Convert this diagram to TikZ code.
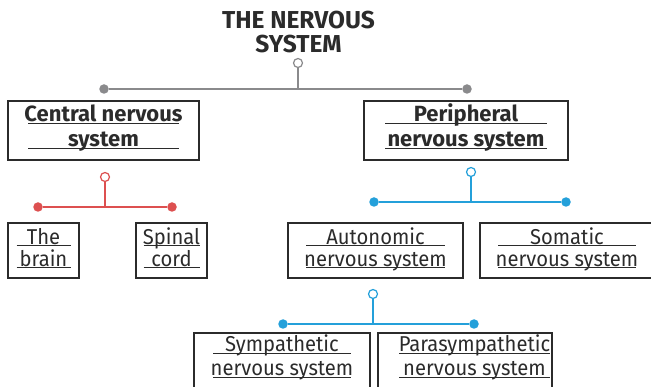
\documentclass[tikz,border=0pt]{standalone}
\usepackage{fontspec}
\setmainfont{Fira Sans}
\newfontfamily\leaffont[FakeStretch=0.94]{Fira Sans}

\definecolor{ink}{HTML}{2B2B2B}
\definecolor{rootgray}{HTML}{8A8A8C}
\definecolor{cnsred}{HTML}{DD5050}
\definecolor{pnsblue}{HTML}{24A0DA}

% one line of text over a rule of fixed width
\newcommand\ulbox[2]{\rlap{\rule[-1.8pt]{#1}{0.9pt}}\makebox[#1]{#2}}
% two underlined lines: width, baseline distance, top allowance, first line, second line
\newcommand\twoline[5]{%
  \vbox{\offinterlineskip
    \hbox{\rule{0pt}{#3}\smash{\ulbox{#1}{#4}}}%
    \vskip\dimexpr#2-#3\relax
    \hbox{\rule{0pt}{#3}\smash{\ulbox{#1}{#5}}}}}

\tikzset{
  panel/.style={draw=ink, line width=1.2pt, inner sep=0pt, text=ink},
  headbox/.style={panel, font=\fontsize{22}{25}\selectfont\bfseries, minimum height=59pt},
  leafbox/.style={panel, font=\leaffont\fontsize{21.5}{24}\selectfont, minimum height=55pt},
  hubring/.style={circle, draw=#1, fill=white, line width=1.2pt, minimum size=9pt, inner sep=0pt},
  enddot/.style={circle, fill=#1, minimum size=9.5pt, inner sep=0pt},
  twig/.style={draw=#1, line width=1.5pt},
}

\begin{document}
\begin{tikzpicture}[x=1pt, y=-1pt]
\useasboundingbox (0,0) rectangle (651,387);

% title
\node[text=ink, font=\fontsize{24.5}{24}\selectfont\bfseries, align=center, inner sep=0pt]
  (title) at (298.5,32) {THE NERVOUS\\SYSTEM};

% first split
\node[hubring=rootgray] (h0) at (298,63) {};
\node[enddot=rootgray] (h0l) at (104,89) {};
\node[enddot=rootgray] (h0r) at (467,89) {};
\draw[twig=rootgray] (h0l) -- (h0r);
\draw[twig=rootgray] (h0) -- (h0 |- h0l);

\node[headbox, minimum width=191pt] (cns) at (103.5,130.5)
  {\twoline{151pt}{25pt}{8pt}{Central nervous}{system}};
\node[headbox, minimum width=204pt] (pns) at (466,130.5)
  {\twoline{162pt}{25pt}{8pt}{Peripheral}{nervous system}};

% central branch
\node[hubring=cnsred] (h1) at (105,177) {};
\node[enddot=cnsred] (h1l) at (38,207) {};
\node[enddot=cnsred] (h1r) at (172,207) {};
\draw[twig=cnsred] (h1l) -- (h1r);
\draw[twig=cnsred] (h1) -- (h1 |- h1l);

\node[leafbox, minimum width=71pt] (brain) at (43.5,250.5)
  {\twoline{54pt}{22pt}{10pt}{The}{brain}};
\node[leafbox, minimum width=71pt] (cord) at (171.5,250.5)
  {\twoline{56pt}{22pt}{10pt}{Spinal}{cord}};

% peripheral branch
\node[hubring=pnsblue] (h2) at (471,172) {};
\node[enddot=pnsblue] (h2l) at (374,202) {};
\node[enddot=pnsblue] (h2r) at (566,202) {};
\draw[twig=pnsblue] (h2l) -- (h2r);
\draw[twig=pnsblue] (h2) -- (h2 |- h2l);

\node[leafbox, minimum width=175pt] (ans) at (375.5,250.5)
  {\twoline{139pt}{22pt}{10pt}{Autonomic}{nervous system}};
\node[leafbox, minimum width=172pt] (sns) at (566,250.5)
  {\hspace*{2pt}\twoline{138pt}{22pt}{10pt}{Somatic}{nervous system}};

% autonomic branch
\node[hubring=pnsblue] (h3) at (373,294) {};
\node[enddot=pnsblue] (h3l) at (283,324) {};
\node[enddot=pnsblue] (h3r) at (474,324) {};
\draw[twig=pnsblue] (h3l) -- (h3r);
\draw[twig=pnsblue] (h3) -- (h3 |- h3l);

\node[leafbox, minimum width=176pt] (symp) at (282,360.5)
  {\twoline{138pt}{24pt}{7pt}{Sympathetic}{nervous system}};
\node[leafbox, minimum width=174pt] (para) at (465,360.5)
  {\hspace*{19pt}\twoline{151pt}{24pt}{7pt}{Parasympathetic}{nervous system}};
\end{tikzpicture}
\end{document}
